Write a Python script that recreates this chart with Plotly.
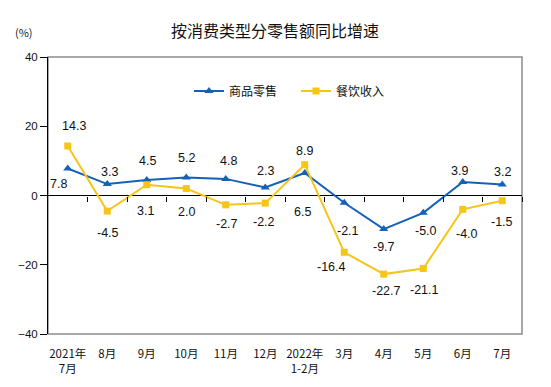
import plotly.graph_objects as go

categories = ["2021年<br>7月", "8月", "9月", "10月", "11月", "12月", "2022年<br>1-2月",
              "3月", "4月", "5月", "6月", "7月"]
retail = [7.8, 3.3, 4.5, 5.2, 4.8, 2.3, 6.5, -2.1, -9.7, -5.0, 3.9, 3.2]
catering = [14.3, -4.5, 3.1, 2.0, -2.7, -2.2, 8.9, -16.4, -22.7, -21.1, -4.0, -1.5]
y_ticks = [-40, -20, 0, 20, 40]

# label offsets in pixels (dx right, dy down)
retail_off = [(-9, 16), (2, -12), (1, -19), (0, -20), (3, -18), (0, -17), (-2, 39),
              (4, 28), (0, 18), (3, 18), (-3, -11), (0, -12)]
catering_off = [(6, -20), (1, 22), (-1, 26), (0, 23), (1, 19), (-1, 19), (0, -14),
                (-13, 15), (3, 17), (1, 21), (4, 25), (0, 21)]

BLUE = "#1461B8"
YELLOW = "#F5C518"
xs = list(range(len(categories)))

fig = go.Figure()
fig.add_trace(go.Scatter(x=xs, y=retail, name="商品零售", mode="lines+markers",
                         line=dict(color=BLUE, width=2),
                         marker=dict(symbol="triangle-up", size=8, color=BLUE)))
fig.add_trace(go.Scatter(x=xs, y=catering, name="餐饮收入", mode="lines+markers",
                         line=dict(color=YELLOW, width=2),
                         marker=dict(symbol="square", size=7, color=YELLOW)))
# helper trace to carry the tick marks drawn on the zero line
fig.add_trace(go.Scatter(x=[0], y=[0], xaxis="x2", mode="markers",
                         marker=dict(opacity=0), showlegend=False, hoverinfo="skip"))

annotations = []
for vals, offs in ((retail, retail_off), (catering, catering_off)):
    for i, (v, (dx, dy)) in enumerate(zip(vals, offs)):
        annotations.append(dict(x=i, y=v, xref="x", yref="y", text=f"{v:.1f}",
                                showarrow=False, xshift=dx, yshift=-dy,
                                font=dict(family="Liberation Sans", size=12.5, color="#111")))
annotations.append(dict(x=(24 - 48) / 474, y=1 + (57 - 32) / 277, xref="paper", yref="paper",
                        text="(%)", xanchor="center", yanchor="middle",
                        showarrow=False, font=dict(family="Noto Sans CJK SC", size=11, color="#222")))

fig.update_layout(
    width=551, height=387,
    margin=dict(l=48, r=29, t=57, b=53),
    paper_bgcolor="white", plot_bgcolor="white",
    title=dict(text="按消费类型分零售额同比增速", x=0.499, xanchor="center",
               y=1 - 31 / 387, yanchor="middle", yref="container",
               font=dict(family="Noto Sans CJK SC", size=16, color="#111")),
    showlegend=True,
    legend=dict(orientation="h", x=(189 - 48) / 474, xanchor="left",
                y=1 - (91 - 57) / 277, yanchor="middle",
                entrywidth=62, entrywidthmode="pixels",
                font=dict(family="Noto Sans CJK SC", size=12, color="#111"),
                bgcolor="rgba(0,0,0,0)"),
    xaxis=dict(range=[-0.5, 11.5], tickvals=xs, ticktext=categories,
               showgrid=False, zeroline=False, showline=False,
               ticks="outside", ticklen=9, tickcolor="rgba(0,0,0,0)",
               tickfont=dict(family="Noto Sans CJK SC", size=11.5, color="#111")),
    xaxis2=dict(range=[-0.5, 11.5], overlaying="x", anchor="free", position=0.5,
                tickvals=[i + 0.5 for i in xs], showticklabels=False,
                ticks="outside", ticklen=5, tickcolor="black", tickwidth=1,
                showgrid=False, zeroline=False, showline=False),
    yaxis=dict(range=[-40, 40], tickvals=y_ticks, showgrid=False,
               zeroline=True, zerolinecolor="black", zerolinewidth=1,
               showline=True, linecolor="black", linewidth=1,
               ticks="outside", ticklen=7, tickcolor="black",
               tickfont=dict(family="Liberation Sans", size=11.5, color="#111")),
    shapes=[dict(type="rect", xref="paper", yref="paper", x0=0, x1=1, y0=0, y1=1,
                 line=dict(color="#8c8c8c", width=1.5), layer="below")],
    annotations=annotations,
)

fig.write_html("out.html", config={"displayModeBar": False},
               post_script="document.body.style.margin='0';")
